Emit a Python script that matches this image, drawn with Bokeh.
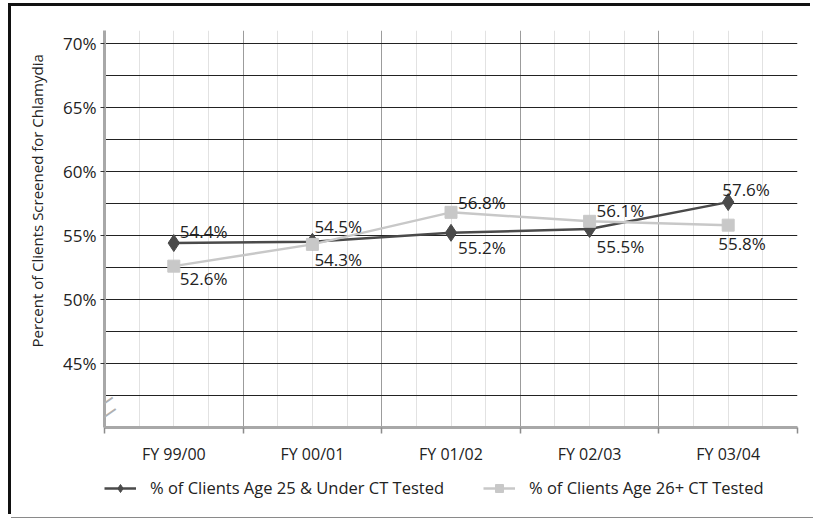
import math
from bokeh.plotting import figure
from bokeh.layouts import column
from bokeh.models import FixedTicker, Label, Legend, LegendItem, ColumnDataSource, PrintfTickFormatter, Title
from bokeh.core.properties import value
from bokeh.embed import file_html
from bokeh.resources import INLINE

# ---- data ----
categories = ["FY 99/00", "FY 00/01", "FY 01/02", "FY 02/03", "FY 03/04"]
under25 = [54.4, 54.5, 55.2, 55.5, 57.6]
age26 = [52.6, 54.3, 56.8, 56.1, 55.8]
y_tick_values = [45, 50, 55, 60, 65, 70]
y_grid_values = [42.5, 45, 47.5, 50, 52.5, 55, 57.5, 60, 62.5, 65, 67.5, 70]
series_names = ["% of Clients Age 25 & Under CT Tested", "% of Clients Age 26+ CT Tested"]
y_title = "Percent of Clients Screened for Chlamydia"

# label placement (styling)
under_dx = [6, 2, 7, 7, -6]
under_dy = [-12, -15, 15, 17, -13]
age26_dx = [6, 2, 7, 7, -10]
age26_dy = [12, 15, -10, -11, 18]

FONT = "Open Sans"
DARK = "#4a4a4a"
LIGHT = "#c8c8c8"

n = len(categories)
centers = [i + 0.5 for i in range(n)]
bounds = [float(i) for i in range(n + 1)]
quarters = [i + q for i in range(n) for q in (0.25, 0.5, 0.75)]

p = figure(width=802, height=466, x_range=(0, n), y_range=(40, 71),
           output_backend="svg", toolbar_location=None,
           min_border_left=93, min_border_right=16, min_border_top=24, min_border_bottom=45,
           outline_line_color=None, background_fill_color="white", border_fill_color="white")

# grids
p.xgrid.ticker = FixedTicker(ticks=bounds, minor_ticks=quarters)
p.xgrid.grid_line_color = "#9c9c9c"
p.xgrid.grid_line_width = 1
p.xgrid.minor_grid_line_color = "#e2e2e2"
p.xgrid.minor_grid_line_width = 1
p.ygrid.ticker = FixedTicker(ticks=y_grid_values)
p.ygrid.grid_line_color = "#222222"
p.ygrid.grid_line_width = 1.2

# x axis
xa = p.xaxis[0]
xa.ticker = FixedTicker(ticks=centers, minor_ticks=bounds)
xa.major_label_overrides = {c: lab for c, lab in zip(centers, categories)}
xa.major_tick_out = 0
xa.major_tick_in = 0
xa.minor_tick_out = 6
xa.minor_tick_in = 0
xa.minor_tick_line_color = "#8c8c8c"
xa.minor_tick_line_width = 1.5
xa.axis_line_color = "#a8a8a8"
xa.axis_line_width = 3
xa.major_label_standoff = 9
xa.major_label_text_font = FONT
xa.major_label_text_font_size = "16px"
xa.major_label_text_color = "#222222"

# y axis
ya = p.yaxis[0]
ya.ticker = FixedTicker(ticks=y_tick_values)
ya.formatter = PrintfTickFormatter(format="%d%%")
ya.major_tick_out = 4
ya.major_tick_in = 0
ya.major_tick_line_color = "#333333"
ya.minor_tick_out = 0
ya.minor_tick_in = 0
ya.axis_line_color = "#a8a8a8"
ya.axis_line_width = 3
ya.major_label_standoff = 4
ya.major_label_text_font = FONT
ya.major_label_text_font_size = "17px"
ya.major_label_text_color = "#222222"

# series
src_u = ColumnDataSource(dict(x=centers, y=under25, lab=[f"{v}%" for v in under25], dx=under_dx, dy=under_dy))
src_a = ColumnDataSource(dict(x=centers, y=age26, lab=[f"{v}%" for v in age26], dx=age26_dx, dy=age26_dy))

line_u = dict(line_color=DARK, line_width=2.5)
mark_u = dict(marker="diamond", size=17, fill_color=DARK, line_color=DARK)
line_a = dict(line_color=LIGHT, line_width=2.5)
mark_a = dict(marker="square", size=12, fill_color=LIGHT, line_color=LIGHT)

p.line("x", "y", source=src_u, **line_u)
p.scatter("x", "y", source=src_u, **mark_u)
p.line("x", "y", source=src_a, **line_a)
p.scatter("x", "y", source=src_a, **mark_a)

for src in (src_u, src_a):
    p.text("x", "y", text="lab", source=src, x_offset="dx", y_offset="dy",
           text_font=value(FONT), text_font_size="17px", text_color="#222222",
           text_align="left", text_baseline="middle")

# y title (side panel, shifted along the axis)
yt = Title(text=y_title, align="left", offset=80, standoff=27,
           text_font=FONT, text_font_size="15px", text_font_style="normal", text_color="#222222")
p.add_layout(yt, "left")

# axis break marks (inside-frame part)
for bx, by in ((-0.018, 41.94), (0.004, 41.04)):
    p.add_layout(Label(x=bx, y=by, text="\u2014", angle=math.radians(35),
                       text_font="DejaVu Sans", text_font_size="26px", text_color="#b0b0b0",
                       text_align="center", text_baseline="middle"))

# legend strip: second figure whose ranges keep its copies of the series out of view,
# so only the legend keys show
pl = figure(width=802, height=45, x_range=p.x_range, y_range=(0, 1),
            output_backend="svg", toolbar_location=None,
            min_border_left=93, min_border_right=16, min_border_top=0, min_border_bottom=0,
            outline_line_color=None, background_fill_color="white", border_fill_color="white")
pl.axis.visible = False
pl.grid.visible = False
k1 = pl.line("x", "y", source=src_u, **line_u)
k2 = pl.scatter("x", "y", source=src_u, **mark_u)
k3 = pl.line("x", "y", source=src_a, **line_a)
k4 = pl.scatter("x", "y", source=src_a, **mark_a)

legend = Legend(items=[LegendItem(label=series_names[0], renderers=[k1, k2]),
                       LegendItem(label=series_names[1], renderers=[k3, k4])],
                orientation="horizontal", location=(0, 18))
legend.border_line_color = None
legend.background_fill_alpha = 0
legend.label_text_font = FONT
legend.label_text_font_size = "16.5px"
legend.label_text_color = "#222222"
legend.glyph_width = 32
legend.label_standoff = 14
legend.spacing = 39
legend.padding = 3
legend.margin = 0
pl.add_layout(legend, "center")

layout = column(p, pl, spacing=0)
layout.styles = {"box-shadow": "-3px -3px 0px 0px #111111, 0px 1px 0px 0px #8a8a8a",
                 "margin-left": "11px", "margin-top": "6px"}

open("out.html", "w").write(file_html(layout, INLINE))
